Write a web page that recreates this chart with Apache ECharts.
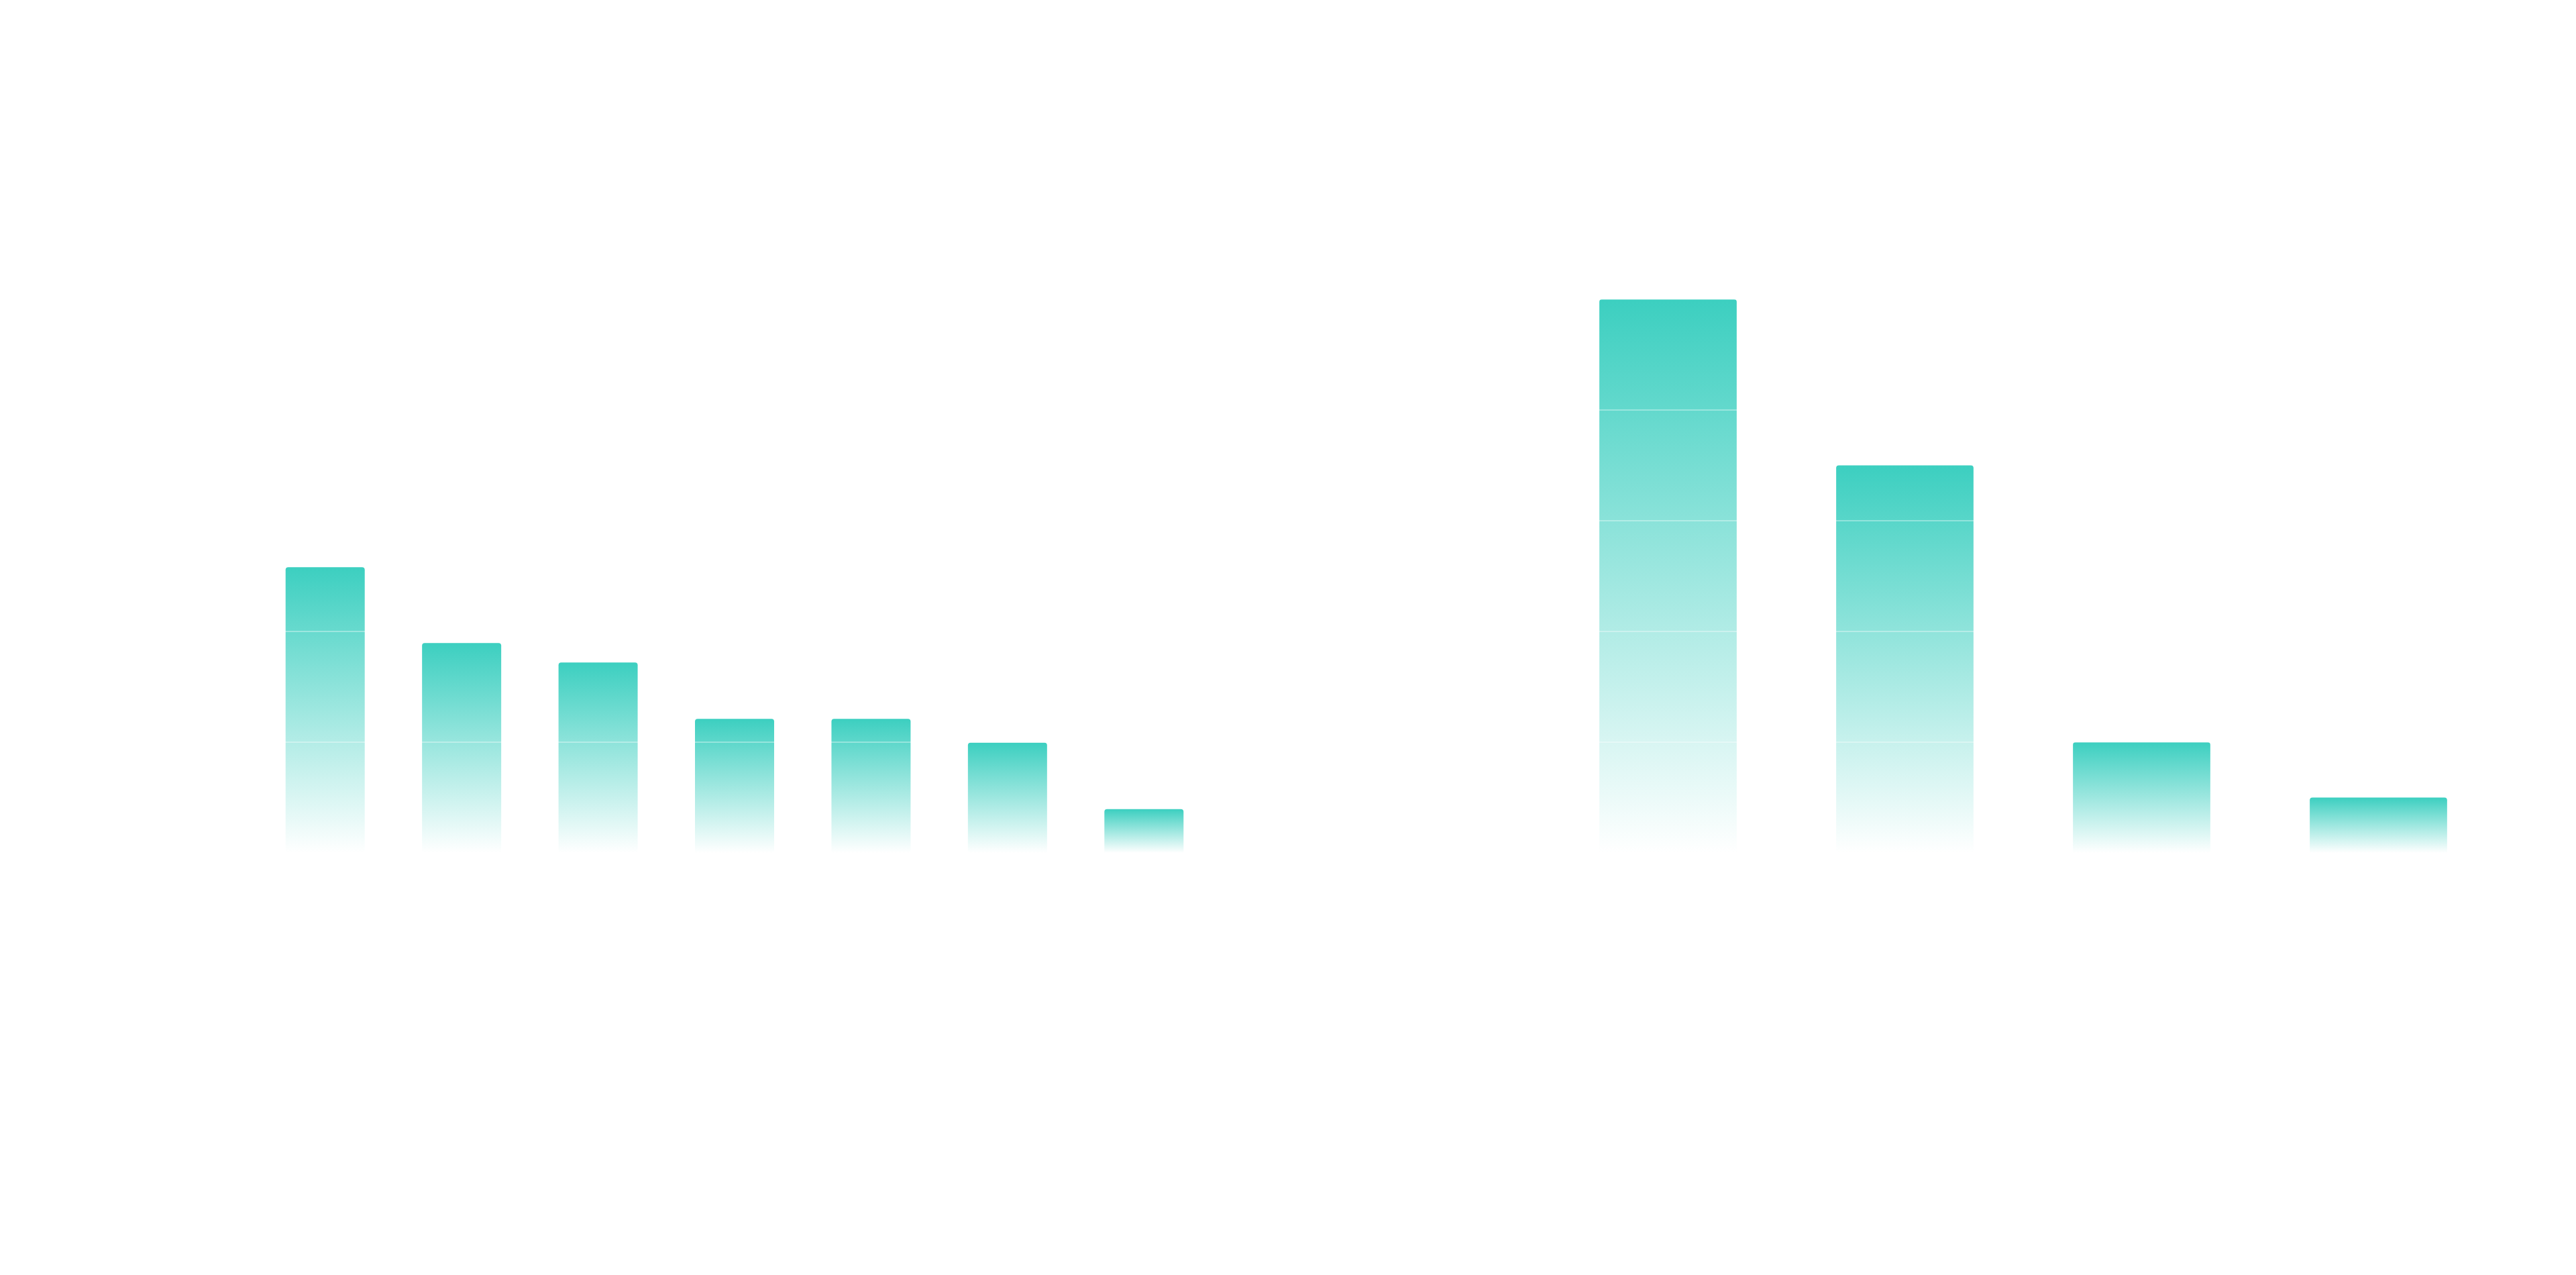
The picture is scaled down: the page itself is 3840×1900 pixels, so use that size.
<!DOCTYPE html>
<html>
<head>
<meta charset="utf-8">
<title>bars</title>
<script src="https://cdn.jsdelivr.net/npm/echarts@6/dist/echarts.min.js"></script>
<style>
    html, body {margin: 0; padding: 0; background: #ffffff;}
    #main {width: 3840px; height: 1900px;}
</style>
</head>
<body>
<div id="main"></div>
<script>
// values (axis 0..100, step 20)
const leftCategories = ['1', '2', '3', '4', '5', '6', '7'];
const leftValues = [51.6, 37.9, 34.4, 24.2, 24.2, 19.9, 7.9];
const rightCategories = ['A', 'B', 'C', 'D'];
const rightValues = [100, 70, 20, 10];
const yTicks = {min: 0, max: 100, interval: 20};

const chart = echarts.init(document.getElementById('main'));

// every bar fades out towards its own base
const barColor = new echarts.graphic.LinearGradient(0, 0, 0, 1, [
    {offset: 0, color: '#3ccfc0'},
    {offset: 1, color: 'rgba(60, 207, 192, 0)'}
]);

const valueAxis = gridIndex => ({
    type: 'value',
    gridIndex: gridIndex,
    min: yTicks.min,
    max: yTicks.max,
    interval: yTicks.interval,
    z: 10,   // draw split lines over the bars
    axisLine: {show: false},
    axisTick: {show: false},
    axisLabel: {show: false},
    splitLine: {lineStyle: {color: 'rgba(255, 255, 255, 0.35)', width: 2}}
});

const categoryAxis = (gridIndex, data) => ({
    type: 'category',
    gridIndex: gridIndex,
    data: data,
    axisLine: {show: false},
    axisTick: {show: false},
    axisLabel: {show: false},
    splitLine: {show: false}
});

const barSeries = (axisIndex, data) => ({
    type: 'bar',
    xAxisIndex: axisIndex,
    yAxisIndex: axisIndex,
    data: data,
    barWidth: '58%',
    itemStyle: {color: barColor, borderRadius: [4, 4, 0, 0]},
    emphasis: {disabled: true}
});

const option = {
    backgroundColor: '#ffffff',
    animation: false,
    grid: [
        {left: 383, right: 2033, top: 446, height: 825},
        {left: 2310, right: 118, top: 446, height: 825}
    ],
    xAxis: [categoryAxis(0, leftCategories), categoryAxis(1, rightCategories)],
    yAxis: [valueAxis(0), valueAxis(1)],
    series: [barSeries(0, leftValues), barSeries(1, rightValues)]
};

chart.setOption(option);
window.addEventListener('resize', () => chart.resize());
</script>
</body>
</html>
